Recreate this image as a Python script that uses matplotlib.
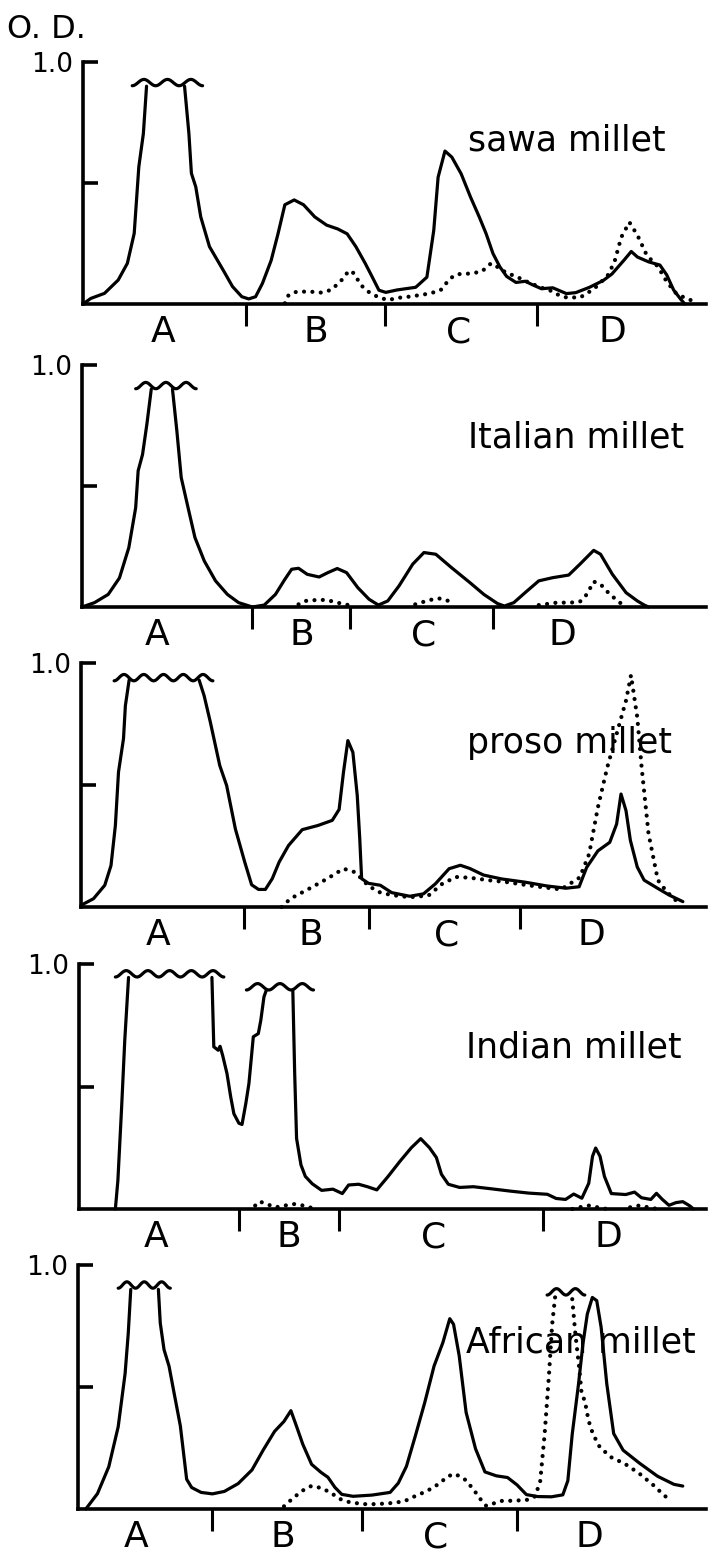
import numpy as np
import matplotlib
matplotlib.use("Agg")
import matplotlib.pyplot as plt
from matplotlib import font_manager

nan = np.nan  # nan = Messwert oberhalb der Skala (abgeschnittener Peak)

# x = Laufstrecke (% der Scanlänge), od = optische Dichte
zones = ["A", "B", "C", "D"]

# --- sawa millet ---
sawa_x = [0, 1.25, 3.45, 5.65, 7.12, 8.22, 8.96, 9.69, 10.2, nan, 16.3, 17.0, 17.4, 18.1, 18.9,
          20.3, 22.5, 24.0, 25.5, 26.6, 27.7, 28.8, 30.2, 31.3, 32.4, 33.9, 35.4, 37.2, 39.1,
          40.9, 42.4, 43.8, 45.3, 46.4, 47.5, 48.6, 50.4, 53.4, 55.2, 56.3, 57.0, 58.1, 59.2,
          60.7, 62.2, 63.6, 64.7, 65.8, 66.9, 68.0, 69.5, 71.0, 72.1, 73.6, 75.4, 77.6, 79.1,
          81.3, 83.5, 84.9, 86.8, 88.0, 89.0, 90.8, 92.6, 93.7, 94.8, 95.9, 96.6]
sawa_od = [0, 0.023, 0.044, 0.099, 0.168, 0.292, 0.567, 0.704, 0.90, nan, 0.90, 0.704, 0.54,
           0.484, 0.36, 0.237, 0.14, 0.072, 0.030, 0.021, 0.030, 0.085, 0.18, 0.29, 0.41, 0.43,
           0.41, 0.36, 0.326, 0.31, 0.29, 0.237, 0.168, 0.113, 0.057, 0.048, 0.058, 0.069,
           0.111, 0.304, 0.524, 0.632, 0.607, 0.538, 0.442, 0.36, 0.291, 0.209, 0.154, 0.114,
           0.089, 0.094, 0.08, 0.063, 0.067, 0.043, 0.047, 0.069, 0.097, 0.124, 0.18, 0.217,
           0.194, 0.174, 0.161, 0.12, 0.058, 0.021, 0.0]
sawa_dot_x = [32.4, 33.0, 34.3, 36.5, 38.3, 39.8, 41.3, 42.7, 43.5, 44.6, 46.0, 47.5, 49.0, 50.4,
              52.6, 55.6, 57.4, 58.9, 60.0, 62.2, 64.0, 65.5, 66.6, 68.0, 69.5, 71.7, 73.6,
              74.7, 76.1, 77.6, 79.8, 82.0, 84.2, 85.3, 86.4, 87.7, 89.0, 90.5, 92.3, 93.7,
              95.2, 96.7, 98.2]
sawa_dot_od = [0.003, 0.037, 0.051, 0.051, 0.047, 0.058, 0.092, 0.138, 0.127, 0.078, 0.047,
               0.027, 0.016, 0.025, 0.031, 0.043, 0.057, 0.105, 0.123, 0.126, 0.134, 0.168,
               0.152, 0.128, 0.114, 0.087, 0.067, 0.06, 0.04, 0.027, 0.027, 0.062, 0.117,
               0.173, 0.276, 0.338, 0.284, 0.201, 0.154, 0.092, 0.044, 0.024, 0.01]
sawa_caps = [(7.9, 19.2, 0.915, 3)]
sawa_div = [26.1, 48.4, 72.9]
sawa_lbl = [12.9, 37.3, 60.3, 85.0]

# --- Italian millet ---
ital_x = [0, 2.0, 4.2, 6.0, 7.5, 8.6, 9.0, 9.7, 10.4, 11.1, nan, 14.5, 15.2, 15.9, 17.0, 18.1,
          19.6, 21.4, 23.3, 25.1, 27.3, 29.2, 31.0, 32.5, 33.6, 34.7, 36.1, 38.0, 39.4, 40.9,
          42.4, 44.2, 46.0, 47.5, 49.0, 50.8, 53.0, 54.8, 56.7, 59.2, 62.2, 64.4, 66.6, 67.7,
          69.2, 71.0, 73.2, 75.4, 78.0, 79.8, 82.0, 83.1, 85.0, 87.2, 89.0, 90.1, 90.8]
ital_od = [0, 0.018, 0.052, 0.12, 0.245, 0.41, 0.563, 0.63, 0.756, 0.90, nan, 0.90, 0.728,
           0.535, 0.41, 0.287, 0.19, 0.108, 0.052, 0.018, 0.0, 0.008, 0.052, 0.114, 0.156, 0.16,
           0.135, 0.124, 0.142, 0.159, 0.142, 0.08, 0.032, 0.008, 0.025, 0.087, 0.177, 0.225,
           0.218, 0.163, 0.10, 0.052, 0.014, 0.004, 0.018, 0.059, 0.108, 0.121, 0.132, 0.177,
           0.234, 0.218, 0.135, 0.059, 0.025, 0.008, 0.0]
ital_dot_x = [34.7, 35.8, 38.0, 39.4, 40.9, 42.7, nan, 53.4, 55.6, 57.1, 58.5, 59.3, nan,
              73.2, 76.1, 78.3, 79.8, 80.9, 82.0, 83.1, 84.6, 86.4]
ital_dot_od = [0.011, 0.025, 0.03, 0.028, 0.018, 0.008, nan, 0.011, 0.028, 0.036, 0.028, 0.011,
               nan, 0.008, 0.018, 0.018, 0.022, 0.052, 0.105, 0.094, 0.052, 0.014]
ital_caps = [(8.6, 18.3, 0.915, 3)]
ital_div = [27.3, 43.0, 65.9]
ital_lbl = [12.0, 35.2, 54.7, 77.0]

# --- proso millet ---
proso_x = [0, 2.0, 3.8, 4.8, 5.5, 6.0, 6.8, 7.1, 7.7, nan, 18.9, 19.7, 20.7, 22.2, 23.3, 24.7,
           26.2, 27.3, 28.4, 29.5, 30.6, 31.7, 33.2, 35.4, 37.9, 40.2, 41.3, 42.0, 42.7, 43.5,
           44.2, 44.6, 44.9, 46.0, 47.9, 49.7, 52.6, 54.8, 56.7, 58.9, 60.7, 62.2, 64.4, 67.3,
           71.0, 74.6, 77.6, 79.7, 80.9, 82.7, 84.6, 85.7, 86.4, 87.2, 87.9, 89.0, 90.1, 92.3,
           94.1, 96.3]
proso_od = [0.007, 0.034, 0.089, 0.17, 0.334, 0.553, 0.69, 0.825, 0.93, nan, 0.93, 0.866,
            0.757, 0.58, 0.498, 0.32, 0.184, 0.091, 0.072, 0.072, 0.116, 0.184, 0.252, 0.317,
            0.334, 0.355, 0.40, 0.553, 0.682, 0.634, 0.457, 0.28, 0.116, 0.097, 0.089, 0.059,
            0.044, 0.054, 0.095, 0.157, 0.171, 0.158, 0.131, 0.115, 0.102, 0.086, 0.077, 0.083,
            0.162, 0.23, 0.265, 0.34, 0.463, 0.395, 0.273, 0.164, 0.11, 0.076, 0.049, 0.022]
proso_dot_x = [32.1, 33.5, 36.5, 39.4, 42.0, 43.8, 44.9, 46.0, 47.9, 49.7, 52.6, 55.6, 57.8,
               60.0, 62.2, 65.1, 68.1, 71.0, 73.9, 76.8, 79.8, 81.3, 82.7, 84.2, 85.7, 87.2,
               88.0, 89.0, 89.7, 90.8, 92.3, 93.7, 95.1, 96.0]
proso_dot_od = [0.0, 0.034, 0.075, 0.116, 0.157, 0.143, 0.116, 0.086, 0.059, 0.049, 0.04,
                0.047, 0.095, 0.123, 0.12, 0.11, 0.102, 0.091, 0.081, 0.072, 0.121, 0.217,
                0.408, 0.572, 0.709, 0.846, 0.95, 0.778, 0.573, 0.301, 0.11, 0.063, 0.029,
                0.009]
proso_caps = [(5.3, 21.1, 0.94, 5)]
proso_div = [26.1, 46.0, 70.2]
proso_lbl = [12.4, 36.7, 58.5, 81.6]

# --- Indian millet ---
ind_x = [5.8, 6.2, 6.8, 7.3, 7.9, nan, 21.2, 21.5, 22.2, 22.5, 22.9, 23.6, 24.2, 24.7, 25.5,
         26.0, 26.6, 27.1, 27.5, 27.8, 28.6, 29.0, 29.5, 29.9, nan, 34.1, 34.4, 34.7, 35.4,
         36.1, 37.2, 38.7, 40.5, 42.0, 43.0, 44.6, 46.0, 47.5, 49.3, 51.2, 53.0, 54.5, 55.9,
         57.0, 57.8, 58.9, 60.7, 62.9, 65.9, 68.8, 71.7, 74.7, 76.1, 77.6, 78.9, 80.2, 81.3,
         81.9, 82.4, 83.1, 83.8, 84.9, 87.2, 88.6, 89.7, 91.2, 92.1, 93.0, 94.1, 95.2, 96.3,
         97.4, 98.0]
ind_od = [0.0, 0.116, 0.416, 0.689, 0.945, nan, 0.945, 0.662, 0.648, 0.664, 0.628, 0.553,
          0.457, 0.389, 0.35, 0.345, 0.43, 0.512, 0.621, 0.703, 0.716, 0.771, 0.866, 0.895,
          nan, 0.895, 0.553, 0.288, 0.18, 0.133, 0.103, 0.076, 0.081, 0.063, 0.098, 0.101,
          0.091, 0.078, 0.133, 0.195, 0.25, 0.287, 0.25, 0.21, 0.142, 0.101, 0.088, 0.091,
          0.082, 0.073, 0.065, 0.06, 0.043, 0.039, 0.061, 0.044, 0.105, 0.215, 0.249, 0.215,
          0.133, 0.063, 0.059, 0.069, 0.046, 0.039, 0.064, 0.04, 0.015, 0.026, 0.03, 0.013,
          0.0]
ind_dot_x = [28.1, 28.8, 29.9, 31.4, 32.8, 34.3, 35.8, 37.2, nan, 78.7, 79.8, 81.3, 82.7, 84.2,
             nan, 87.9, 89.3, 90.8, 92.3]
ind_dot_od = [0.014, 0.031, 0.02, 0.007, 0.014, 0.02, 0.014, 0.004, nan, 0.0, 0.007, 0.014,
              0.007, 0.0, nan, 0.007, 0.014, 0.007, 0.0]
ind_caps = [(5.8, 23.1, 0.96, 5), (26.7, 37.4, 0.907, 3)]
ind_div = [25.5, 41.4, 74.0]
ind_lbl = [12.3, 33.4, 56.6, 84.4]

# --- African millet ---
afr_x = [1.25, 3.1, 4.9, 6.4, 7.5, 8.0, 8.4, nan, 12.8, 13.1, 13.7, 14.5, 15.2, 16.3, 17.3,
         18.1, 19.6, 21.4, 23.3, 25.5, 27.7, 29.5, 31.3, 32.8, 33.9, 34.7, 35.8, 37.2, 38.7,
         39.8, 40.9, 42.0, 43.8, 46.8, 49.7, 51.0, 52.3, 53.7, 55.2, 56.7, 58.1, 59.2, 59.8,
         60.7, 61.8, 63.3, 64.8, 66.6, 68.4, 69.9, 71.4, 73.2, 75.4, 77.2, 78.0, 78.7, 79.7,
         80.4, 81.1, 81.9, 82.6, 83.3, 84.2, 85.3, 86.8, 89.4, 92.3, 94.9, 96.3]
afr_od = [0.0, 0.063, 0.173, 0.337, 0.555, 0.719, 0.90, nan, 0.90, 0.762, 0.653, 0.585, 0.489,
          0.34, 0.122, 0.088, 0.068, 0.062, 0.072, 0.104, 0.16, 0.242, 0.318, 0.359, 0.403,
          0.346, 0.265, 0.183, 0.15, 0.13, 0.089, 0.06, 0.052, 0.057, 0.068, 0.106, 0.175,
          0.298, 0.435, 0.586, 0.682, 0.78, 0.757, 0.628, 0.396, 0.247, 0.152, 0.136, 0.129,
          0.099, 0.059, 0.051, 0.05, 0.058, 0.116, 0.307, 0.512, 0.676, 0.799, 0.867, 0.854,
          0.745, 0.513, 0.309, 0.241, 0.188, 0.134, 0.101, 0.094]
afr_dot_x = [32.8, 34.3, 35.8, 37.2, 38.7, 40.2, 41.6, 43.1, 45.3, 47.5, 49.7, 51.9, 53.7,
             55.6, 57.4, 58.9, 60.0, 61.5, 62.9, 64.0, 65.0, 66.2, 67.3, 69.5, 71.7, 72.8,
             73.6, 74.3, 75.0, 75.5, 76.0, nan, 78.7, 79.2, 79.8, 80.2, 80.7, 81.3, 82.0,
             83.1, 84.9, 87.1, 89.4, 91.6, 93.0, 94.5]
afr_dot_od = [0.011, 0.046, 0.076, 0.095, 0.086, 0.068, 0.042, 0.029, 0.02, 0.02, 0.024,
              0.031, 0.053, 0.074, 0.102, 0.134, 0.144, 0.124, 0.083, 0.043, 0.013, 0.023,
              0.033, 0.034, 0.038, 0.052, 0.114, 0.305, 0.551, 0.756, 0.875, nan, 0.86, 0.717,
              0.58, 0.471, 0.444, 0.362, 0.307, 0.253, 0.212, 0.185, 0.145, 0.098, 0.064,
              0.03]
afr_caps = [(6.4, 14.7, 0.918, 3), (74.7, 80.7, 0.89, 2)]
afr_div = [21.3, 45.2, 69.9]
afr_lbl = [9.3, 32.6, 57.0, 81.5]

panels = [
    ("sawa millet", sawa_x, sawa_od, sawa_dot_x, sawa_dot_od, sawa_caps, sawa_div, sawa_lbl, 0.636),
    ("Italian millet", ital_x, ital_od, ital_dot_x, ital_dot_od, ital_caps, ital_div, ital_lbl, 0.66),
    ("proso millet", proso_x, proso_od, proso_dot_x, proso_dot_od, proso_caps, proso_div, proso_lbl, 0.63),
    ("Indian millet", ind_x, ind_od, ind_dot_x, ind_dot_od, ind_caps, ind_div, ind_lbl, 0.62),
    ("African millet", afr_x, afr_od, afr_dot_x, afr_dot_od, afr_caps, afr_div, afr_lbl, 0.64),
]

# Achsenrahmen in Pixeln: (linker Rand, y von 1.0, y der Grundlinie)
frames = [(83, 62, 304), (82, 365, 607), (81, 663, 907), (79, 964, 1209), (78, 1265, 1509)]
W, H, RIGHT = 712, 1553, 706

installed = {f.name for f in font_manager.fontManager.ttflist}
narrow = "Liberation Sans Narrow" if "Liberation Sans Narrow" in installed else "DejaVu Sans"
plt.rcParams["font.family"] = ["DejaVu Sans"]

fig = plt.figure(figsize=(W / 100, H / 100), dpi=100)

for (name, x, od, dx, dod, caps, div, lbl, ty), (left, top, base) in zip(panels, frames):
    ax = fig.add_axes([left / W, 1 - base / H, (RIGHT - left) / W, (base - top) / H])
    ax.set_xlim(0, 100)
    ax.set_ylim(0, 1)
    ax.patch.set_visible(False)
    for s in ["top", "right"]:
        ax.spines[s].set_visible(False)
    for s in ["left", "bottom"]:
        ax.spines[s].set_linewidth(2.6)

    # Densitogramme: durchgezogen und punktiert
    ax.plot(x, od, color="black", lw=2.3, solid_joinstyle="round",
            solid_capstyle="round", clip_on=False)
    ax.plot(dx, dod, color="black", lw=3.0, linestyle=(0, (0.01, 2.0)),
            dash_capstyle="round", clip_on=False)

    # Wellenlinie über abgeschnittenen Peaks
    for c0, c1, lev, n in caps:
        t = np.linspace(0, 1, 120)
        ax.plot(c0 + (c1 - c0) * t, lev - 0.013 * np.cos(2 * np.pi * n * t),
                color="black", lw=2.3, solid_capstyle="round", clip_on=False)

    # Zonengrenzen und Buchstaben
    ax.set_xticks(div)
    ax.set_xticklabels([])
    ax.tick_params(axis="x", which="major", direction="out", length=16, width=2.2)
    ax.set_xticks(lbl, minor=True)
    ax.set_xticklabels(zones, minor=True, fontsize=26)
    ax.tick_params(axis="x", which="minor", length=0, pad=8)

    ax.set_yticks([0.5, 1.0])
    ax.set_yticklabels(["", "1.0"], fontsize=21 if narrow != "DejaVu Sans" else 19,
                       family=narrow)
    ax.tick_params(axis="y", direction="in", length=11, width=2.6, pad=7)

    ax.text(61.8, ty, name, fontsize=25, ha="left", va="baseline")

fig.text(46 / W, 1 - 30 / H, "O. D.", fontsize=23, ha="center", va="center")

fig.savefig("out.png", dpi=100)
